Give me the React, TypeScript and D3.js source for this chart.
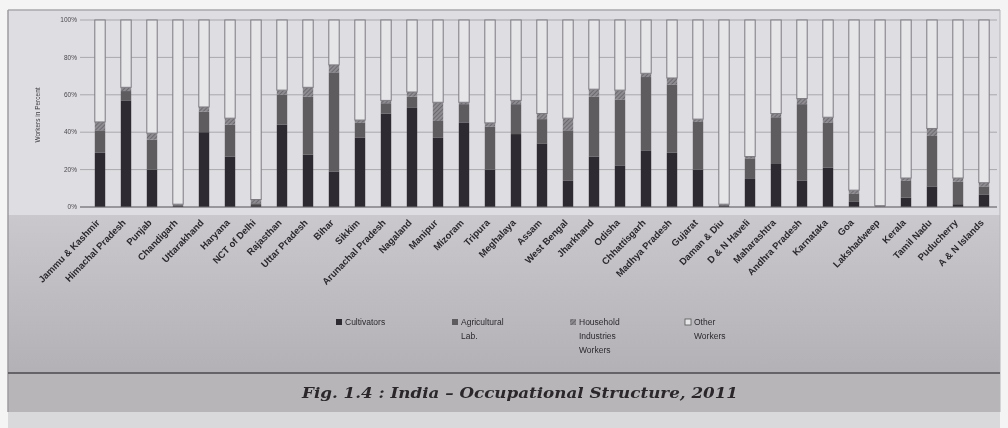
import React from "react";
import * as d3 from "d3";

const categories = [
  "Jammu & Kashmir", "Himachal Pradesh", "Punjab", "Chandigarh", "Uttarakhand",
  "Haryana", "NCT of Delhi", "Rajasthan", "Uttar Pradesh", "Bihar", "Sikkim",
  "Arunachal Pradesh", "Nagaland", "Manipur", "Mizoram", "Tripura", "Meghalaya",
  "Assam", "West Bengal", "Jharkhand", "Odisha", "Chhattisgarh", "Madhya Pradesh",
  "Gujarat", "Daman & Diu", "D & N Haveli", "Maharashtra", "Andhra Pradesh",
  "Karnataka", "Goa", "Lakshadweep", "Kerala", "Tamil Nadu", "Puducherry",
  "A & N Islands",
];

const cultivators = [29, 57, 20, 0.5, 40, 27, 1, 44, 28, 19, 37, 50, 53, 37, 45, 20, 39, 34, 14, 27, 22, 30, 29, 20, 0.5, 15, 23, 14, 21, 3, 0.2, 5, 11, 1.5, 6.5];
const agriculturalLab = [12, 5, 16, 0.5, 11, 17, 1, 16, 31, 53, 8, 5.5, 6, 9, 10, 23, 16, 13, 27, 32, 35.5, 39.5, 36.5, 25.5, 0.5, 11, 25, 41, 24, 4, 0.2, 9, 27, 12, 4.5];
const householdIndustries = [4.5, 2, 3.5, 0.5, 2.5, 3.5, 2, 2.5, 5, 4, 1.5, 1.5, 2.5, 10, 1, 2, 2, 3, 6.5, 4, 5, 2, 3.5, 1.5, 0.5, 1, 2, 3, 3, 2, 0.3, 1.5, 4, 2, 2];
const otherWorkers = [54.5, 36, 60.5, 98.5, 46.5, 52.5, 96, 37.5, 36, 24, 53.5, 43, 38.5, 44, 44, 55, 43, 50, 52.5, 37, 37.5, 28.5, 31, 53, 98.5, 73, 50, 42, 52, 91, 99.3, 84.5, 58, 84.5, 87];

const yTicks = [0, 20, 40, 60, 80, 100];
const seriesKeys = ["Cultivators", "Agricultural Lab.", "Household Industries Workers", "Other Workers"];
const legendLines = [["Cultivators"], ["Agricultural", "Lab."], ["Household", "Industries", "Workers"], ["Other", "Workers"]];

const W = 1008;
const H = 428;

export default function App() {
  const rows = categories.map((c, i) => ({
    name: c,
    "Cultivators": cultivators[i],
    "Agricultural Lab.": agriculturalLab[i],
    "Household Industries Workers": householdIndustries[i],
    "Other Workers": otherWorkers[i],
  }));
  const stack = d3.stack<any>().keys(seriesKeys);
  const series = stack(rows);

  const x = d3.scaleBand<string>().domain(categories).range([87, 997]).paddingInner(0.6).paddingOuter(0.3);
  const y = d3.scaleLinear().domain([0, 100]).range([207, 20]);

  const fills = ["#2f2c31", "#5e5b60", "url(#hatch)", "#e6e5e8"];
  const strokes = ["none", "none", "none", "#7d7b80"];
  const legendX = [339, 455, 573, 688];
  const legendFill = ["#2f2c31", "#5e5b60", "url(#hatch)", "#e6e5e8"];

  return (
    <svg width={W} height={H} style={{ position: "absolute", left: 0, top: 0 }} fontFamily="Liberation Sans, Arial, sans-serif">
      <defs>
        <linearGradient id="lower" x1="0" y1="0" x2="0" y2="1">
          <stop offset="0" stopColor="#cac8cc" />
          <stop offset="1" stopColor="#b3b1b5" />
        </linearGradient>
        <pattern id="hatch" width="3" height="3" patternUnits="userSpaceOnUse" patternTransform="rotate(45)">
          <rect width="3" height="3" fill="#8e8b90" />
          <line x1="0" y1="0" x2="0" y2="3" stroke="#55525a" strokeWidth="1.2" />
        </pattern>
        <filter id="soft" x="-2%" y="-2%" width="104%" height="104%">
          <feGaussianBlur stdDeviation="0.55" />
        </filter>
      </defs>

      <rect x={0} y={0} width={W} height={H} fill="#f4f4f5" />
      <g filter="url(#soft)">
        <rect x={8} y={10} width={992} height={205} fill="#dedde1" />
        <rect x={8} y={215} width={992} height={157} fill="url(#lower)" />
        <rect x={8} y={372} width={992} height={40} fill="#b7b5b8" />
        <rect x={8} y={412} width={992} height={16} fill="#d9d8da" />
        <line x1={8} y1={10} x2={1000} y2={10} stroke="#a9a8ac" strokeWidth={1.5} />
        <line x1={8} y1={10} x2={8} y2={412} stroke="#9c9b9f" strokeWidth={1.5} />
        <line x1={1000} y1={10} x2={1000} y2={412} stroke="#b5b4b8" strokeWidth={1} />
        <line x1={8} y1={373} x2={1000} y2={373} stroke="#4a484c" strokeWidth={1.6} />

        {yTicks.map((t) => (
          <g key={t}>
            <line x1={80} x2={997} y1={y(t)} y2={y(t)} stroke="#a9a8ad" strokeWidth={1} />
            <text x={77} y={y(t)} dy="0.35em" textAnchor="end" fontSize={6.5} fill="#4a484d">
              {t}%
            </text>
          </g>
        ))}
        <text transform="translate(40,115) rotate(-90)" textAnchor="middle" fontSize={6.5} fill="#3a383d">
          Workers in Percent
        </text>

        {series.map((s, si) => (
          <g key={s.key}>
            {s.map((d, i) => (
              <rect
                key={i}
                x={x(categories[i])}
                y={y(d[1])}
                width={x.bandwidth()}
                height={Math.max(0, y(d[0]) - y(d[1]))}
                fill={fills[si]}
                stroke={strokes[si]}
                strokeWidth={1}
              />
            ))}
          </g>
        ))}
        <line x1={80} x2={997} y1={y(0)} y2={y(0)} stroke="#6d6b70" strokeWidth={1} />

        {categories.map((c) => {
          const cx = (x(c) as number) + x.bandwidth() / 2;
          return (
            <text
              key={c}
              transform={`translate(${cx - 2},${221}) rotate(-46)`}
              textAnchor="end"
              dy="0.35em"
              fontSize={9.5}
              fontWeight="bold"
              fill="#2b292e"
            >
              {c}
            </text>
          );
        })}

        {seriesKeys.map((k, i) => (
          <g key={k}>
            <rect x={legendX[i] - 3} y={319} width={6} height={6} fill={legendFill[i]} stroke={i === 3 ? "#555" : "none"} strokeWidth={0.8} />
            {legendLines[i].map((ln, j) => (
              <text key={j} x={legendX[i] + 6} y={322 + j * 14} dy="0.35em" fontSize={8.5} fill="#2b292e">
                {ln}
              </text>
            ))}
          </g>
        ))}

        <text x={520} y={398} textAnchor="middle" fontSize={14} fontWeight="bold" fontStyle="italic" fontFamily="DejaVu Serif, Liberation Serif, serif" fill="#2a282b" textLength={436} lengthAdjust="spacingAndGlyphs">
          Fig. 1.4 : India – Occupational Structure, 2011
        </text>
      </g>
    </svg>
  );
}
